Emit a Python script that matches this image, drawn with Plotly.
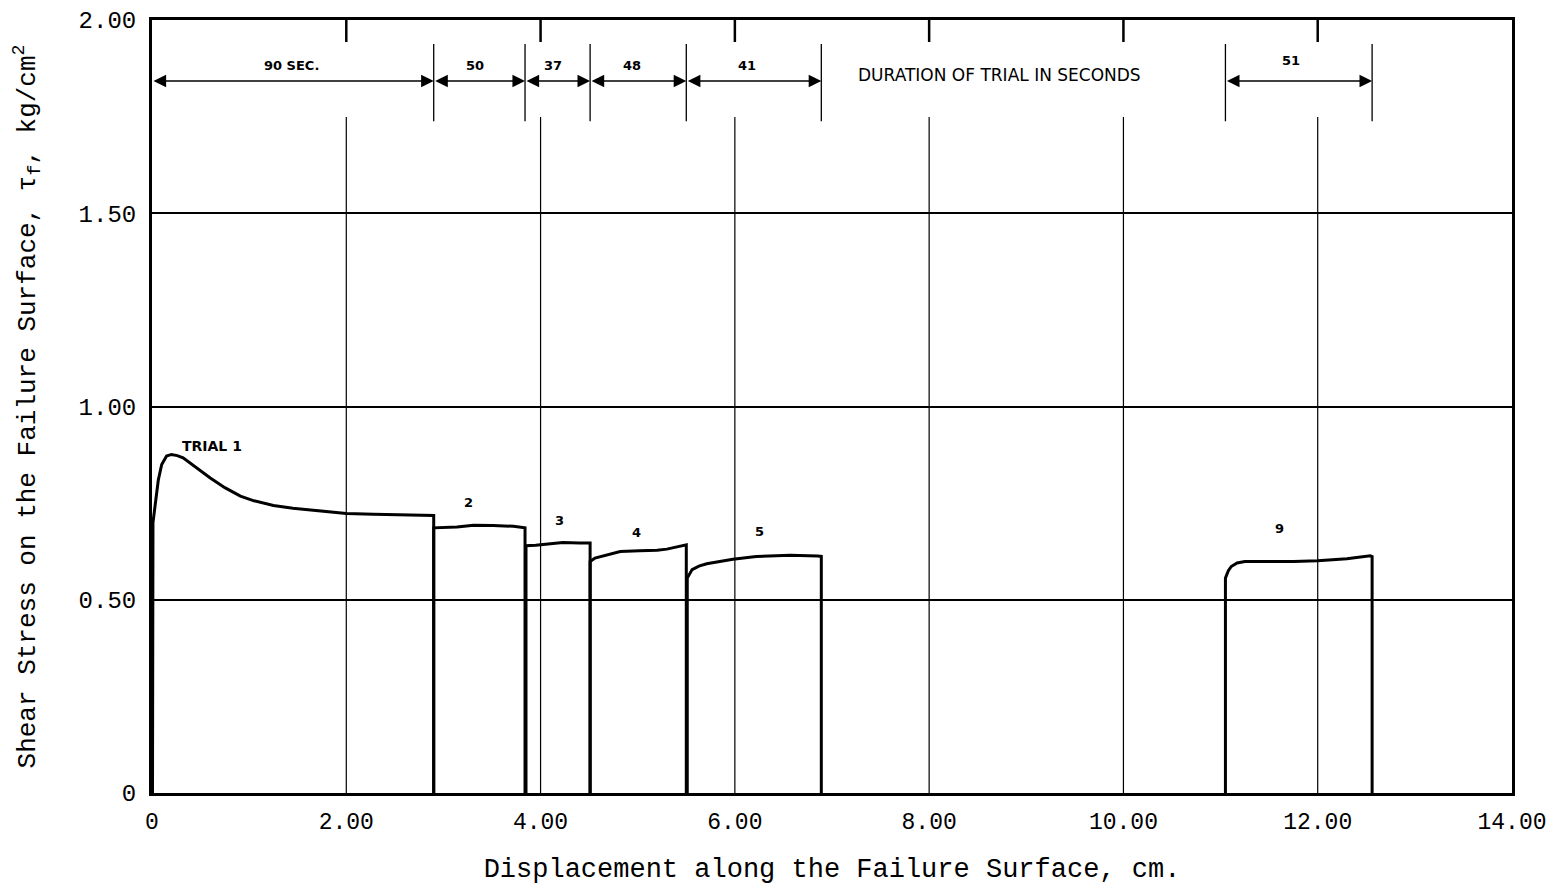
import plotly.graph_objects as go

# ---------------- data ----------------
trial1_x = [0.005, 0.01, 0.04, 0.065, 0.10, 0.15, 0.20, 0.26, 0.32, 0.45, 0.60, 0.75, 0.91, 1.05, 1.25, 1.45, 1.66, 2.00, 2.28, 2.60, 2.90, 2.90]
trial1_y = [0.0, 0.70, 0.76, 0.81, 0.85, 0.872, 0.876, 0.873, 0.867, 0.843, 0.815, 0.790, 0.768, 0.756, 0.744, 0.737, 0.731, 0.723, 0.721, 0.720, 0.718, 0.0]
trial2_x = [2.90, 2.90, 3.14, 3.31, 3.51, 3.72, 3.84, 3.84]
trial2_y = [0.0, 0.686, 0.688, 0.693, 0.692, 0.690, 0.686, 0.0]
trial3_x = [3.85, 3.85, 3.95, 4.10, 4.23, 4.40, 4.51, 4.51]
trial3_y = [0.0, 0.640, 0.641, 0.645, 0.648, 0.647, 0.647, 0.0]
trial4_x = [4.51, 4.51, 4.56, 4.70, 4.82, 5.02, 5.20, 5.30, 5.40, 5.50, 5.50]
trial4_y = [0.0, 0.599, 0.608, 0.618, 0.625, 0.627, 0.628, 0.631, 0.637, 0.642, 0.0]
trial5_x = [5.51, 5.51, 5.56, 5.63, 5.71, 5.85, 5.98, 6.22, 6.57, 6.85, 6.89, 6.89]
trial5_y = [0.0, 0.556, 0.578, 0.587, 0.593, 0.600, 0.605, 0.612, 0.615, 0.613, 0.612, 0.0]
trial9_x = [11.05, 11.05, 11.08, 11.11, 11.17, 11.25, 11.75, 12.00, 12.30, 12.54, 12.56, 12.56]
trial9_y = [0.0, 0.556, 0.575, 0.586, 0.595, 0.599, 0.599, 0.601, 0.606, 0.614, 0.612, 0.0]

trial_labels = ["TRIAL 1", "2", "3", "4", "5", "9"]
trial_label_x = [0.62, 3.26, 4.19, 4.99, 6.25, 11.61]
trial_label_y = [0.899, 0.751, 0.705, 0.674, 0.676, 0.684]

# duration-of-trial dimension arrows
dur_starts = [0.0, 2.90, 3.84, 4.51, 5.50, 11.05]
dur_ends = [2.90, 3.84, 4.51, 5.50, 6.89, 12.56]
dur_labels = ["90 SEC.", "50", "37", "48", "41", "51"]
dur_label_x = [1.44, 3.33, 4.13, 4.94, 6.13, 11.72]
dur_label_y = [1.883, 1.883, 1.883, 1.883, 1.883, 1.894]
dur_arrow_y = 1.842
ext_line_x = [2.90, 3.84, 4.51, 5.50, 6.89, 11.05, 12.56]
ext_line_y0, ext_line_y1 = 1.738, 1.938
dur_note = "DURATION OF TRIAL IN SECONDS"
dur_note_x, dur_note_y = 8.72, 1.857

x_ticks = [0, 2, 4, 6, 8, 10, 12, 14]
x_ticktext = ["0", "2.00", "4.00", "6.00", "8.00", "10.00", "12.00", "14.00"]
y_ticks = [0, 0.5, 1.0, 1.5, 2.0]
y_ticktext = ["0", "0.50", "1.00", "1.50", "2.00"]
vgrid_top = 1.749
top_tick_bottom = 1.943

# ---------------- figure ----------------
fig = go.Figure()
for xs, ys in [(trial1_x, trial1_y), (trial2_x, trial2_y), (trial3_x, trial3_y),
               (trial4_x, trial4_y), (trial5_x, trial5_y), (trial9_x, trial9_y)]:
    fig.add_trace(go.Scatter(x=xs, y=ys, mode="lines",
                             line=dict(color="black", width=3), showlegend=False,
                             hoverinfo="skip"))

shapes = []
for xv in x_ticks[1:-1]:
    shapes.append(dict(type="line", xref="x", yref="y", x0=xv, x1=xv, y0=0, y1=vgrid_top,
                       line=dict(color="black", width=1.2), layer="below"))
    shapes.append(dict(type="line", xref="x", yref="y", x0=xv, x1=xv, y0=top_tick_bottom, y1=2.0,
                       line=dict(color="black", width=2.5), layer="below"))
for xv in ext_line_x:
    shapes.append(dict(type="line", xref="x", yref="y", x0=xv, x1=xv, y0=ext_line_y0, y1=ext_line_y1,
                       line=dict(color="black", width=1.3)))

annotations = []
for s, e in zip(dur_starts, dur_ends):
    annotations.append(dict(x=e, y=dur_arrow_y, ax=s, ay=dur_arrow_y, xref="x", yref="y",
                            axref="x", ayref="y", text="", showarrow=True,
                            arrowside="end+start", arrowhead=2, arrowsize=1.8,
                            arrowwidth=1.4, arrowcolor="black", standoff=0, startstandoff=0))
for t, xv, yv in zip(dur_labels, dur_label_x, dur_label_y):
    annotations.append(dict(x=xv, y=yv, xref="x", yref="y", text="<b>" + t + "</b>", showarrow=False,
                            font=dict(family="DejaVu Sans", size=13, color="black")))
annotations.append(dict(x=dur_note_x, y=dur_note_y, xref="x", yref="y", text=dur_note,
                        showarrow=False, font=dict(family="DejaVu Sans", size=17, color="black")))
for t, xv, yv in zip(trial_labels, trial_label_x, trial_label_y):
    annotations.append(dict(x=xv, y=yv, xref="x", yref="y", text="<b>" + t + "</b>", showarrow=False,
                            font=dict(family="DejaVu Sans", size=14 if t.startswith("TRIAL") else 13,
                                      color="black")))

fig.update_layout(
    width=1554, height=885,
    margin=dict(l=152, r=42, t=20, b=92),
    paper_bgcolor="white", plot_bgcolor="white",
    shapes=shapes, annotations=annotations,
    xaxis=dict(range=[0, 14], tickvals=x_ticks, ticktext=x_ticktext, showgrid=False,
               zeroline=False, showline=True, linecolor="black", linewidth=3, mirror=True,
               ticks="", ticklabelstandoff=5, automargin=False,
               tickfont=dict(family="Liberation Mono", size=23, color="black"),
               title=dict(text="Displacement along the Failure Surface, cm.", standoff=34,
                          font=dict(family="Liberation Mono", size=27, color="black"))),
    yaxis=dict(range=[0, 2], tickvals=y_ticks, ticktext=y_ticktext, showgrid=True,
               gridcolor="black", gridwidth=1.8, zeroline=False, showline=True,
               linecolor="black", linewidth=3, mirror=True, ticks="", ticklabelstandoff=8,
               automargin=False,
               tickfont=dict(family="Liberation Mono", size=24, color="black"),
               title=dict(text="Shear Stress on the Failure Surface, τ<sub>f</sub>, kg/cm<sup>2</sup>",
                          standoff=36,
                          font=dict(family="Liberation Mono", size=26, color="black"))),
)

fig.write_html("out.html", config={"displayModeBar": False},
               post_script="document.body.style.margin='0';document.body.style.overflow='hidden';")
